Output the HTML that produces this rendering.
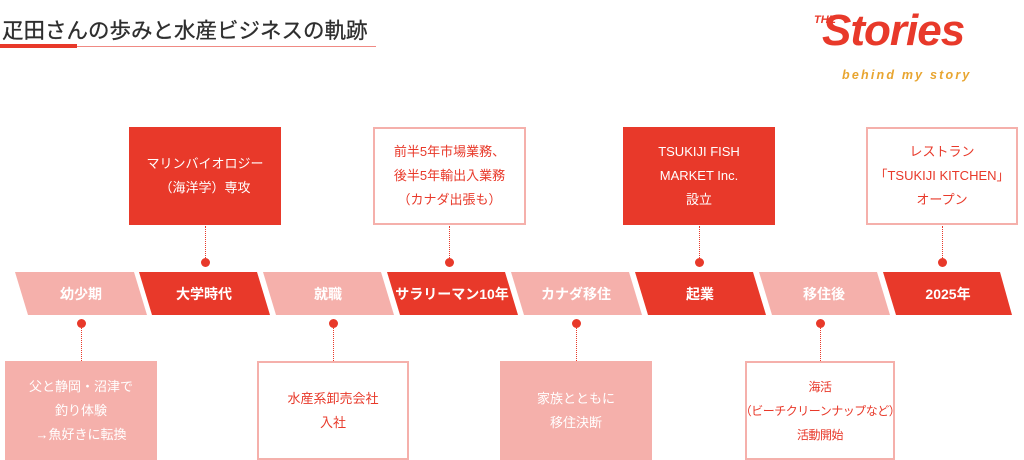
<!DOCTYPE html>
<html><head><meta charset="utf-8"><style>
body{margin:0;width:1024px;height:460px;background:#fff;position:relative;overflow:hidden;font-family:"Liberation Sans","Noto Sans CJK JP",sans-serif}
.a{position:absolute}
.box{position:absolute;display:flex;align-items:center;justify-content:center;text-align:center;font-size:13px;line-height:24px;box-sizing:border-box;white-space:nowrap}
.dk{background:#e8392a;color:#fff}
.pk{background:#f5b0ab;color:#fff}
.ol{background:#fff;border:2px solid #f5b0ab;color:#e8392a}
.dot{position:absolute;width:9px;height:9px;border-radius:50%;background:#e8392a}
.vl{position:absolute;width:0;border-left:1.5px dotted #e8392a}
</style></head><body>
<div class="a" style="left:2px;top:14px;font-size:21.5px;color:#2e2e2e;white-space:nowrap;-webkit-text-stroke:0.3px #2e2e2e">疋田さんの歩みと水産ビジネスの軌跡</div>
<div class="a" style="left:0;top:46px;width:376px;height:1px;background:#f08a84"></div>
<div class="a" style="left:0;top:44px;width:77px;height:4px;background:#e8392a"></div>

<div class="a" style="left:814px;top:14px;font-size:11px;font-weight:bold;font-style:italic;color:#e8392a">THE</div>
<div class="a" style="left:822px;top:6px;font-size:44px;line-height:50px;font-weight:bold;font-style:italic;color:#e8392a;letter-spacing:-1px">Stories</div>
<div class="a" style="left:842px;top:68px;font-size:12.5px;font-weight:bold;font-style:italic;color:#e8a530;letter-spacing:2.2px;white-space:nowrap">behind my story</div>

<svg class="a" style="left:0;top:0" width="1024" height="460">
<g font-size="14" font-weight="bold" text-anchor="middle" fill="#fff" font-family="Liberation Sans, Noto Sans CJK JP, sans-serif">
<polygon points="15,272 134,272 147,315 28,315" fill="#f5b0ab"/><text x="81" y="299">幼少期</text>
<polygon points="139,272 257,272 270,315 152,315" fill="#e8392a"/><text x="204" y="299">大学時代</text>
<polygon points="263,272 381,272 394,315 276,315" fill="#f5b0ab"/><text x="328" y="299">就職</text>
<polygon points="387,272 505,272 518,315 400,315" fill="#e8392a"/><text x="452" y="299">サラリーマン10年</text>
<polygon points="511,272 629,272 642,315 524,315" fill="#f5b0ab"/><text x="576" y="299">カナダ移住</text>
<polygon points="635,272 753,272 766,315 648,315" fill="#e8392a"/><text x="700" y="299">起業</text>
<polygon points="759,272 877,272 890,315 772,315" fill="#f5b0ab"/><text x="824" y="299">移住後</text>
<polygon points="883,272 1000,272 1012,315 896,315" fill="#e8392a"/><text x="948" y="299">2025年</text>
</g></svg>

<div class="box dk" style="left:129px;top:127px;width:152px;height:98px">マリンバイオロジー<br>（海洋学）専攻</div>
<div class="box ol" style="left:373px;top:127px;width:153px;height:98px">前半5年市場業務、<br>後半5年輸出入業務<br>（カナダ出張も）</div>
<div class="box dk" style="left:623px;top:127px;width:152px;height:98px">TSUKIJI FISH<br>MARKET Inc.<br>設立</div>
<div class="box ol" style="left:866px;top:127px;width:152px;height:98px">レストラン<br>「TSUKIJI KITCHEN」<br>オープン</div>
<div class="vl" style="left:205px;top:226px;height:34px"></div><div class="dot" style="left:201px;top:258px"></div>
<div class="vl" style="left:449px;top:226px;height:34px"></div><div class="dot" style="left:445px;top:258px"></div>
<div class="vl" style="left:699px;top:226px;height:34px"></div><div class="dot" style="left:695px;top:258px"></div>
<div class="vl" style="left:942px;top:226px;height:34px"></div><div class="dot" style="left:938px;top:258px"></div>

<div class="dot" style="left:77px;top:319px"></div><div class="vl" style="left:81px;top:326px;height:35px"></div>
<div class="dot" style="left:329px;top:319px"></div><div class="vl" style="left:333px;top:326px;height:35px"></div>
<div class="dot" style="left:572px;top:319px"></div><div class="vl" style="left:576px;top:326px;height:35px"></div>
<div class="dot" style="left:816px;top:319px"></div><div class="vl" style="left:820px;top:326px;height:35px"></div>
<div class="box pk" style="left:5px;top:361px;width:152px;height:99px">父と静岡・沼津で<br>釣り体験<br>→魚好きに転換</div>
<div class="box ol" style="left:257px;top:361px;width:152px;height:99px">水産系卸売会社<br>入社</div>
<div class="box pk" style="left:500px;top:361px;width:152px;height:99px">家族とともに<br>移住決断</div>
<div class="box ol" style="left:745px;top:361px;width:150px;height:99px;font-size:12px;letter-spacing:-0.5px">海活<br>（ビーチクリーンナップなど）<br>活動開始</div>
</body></html>
